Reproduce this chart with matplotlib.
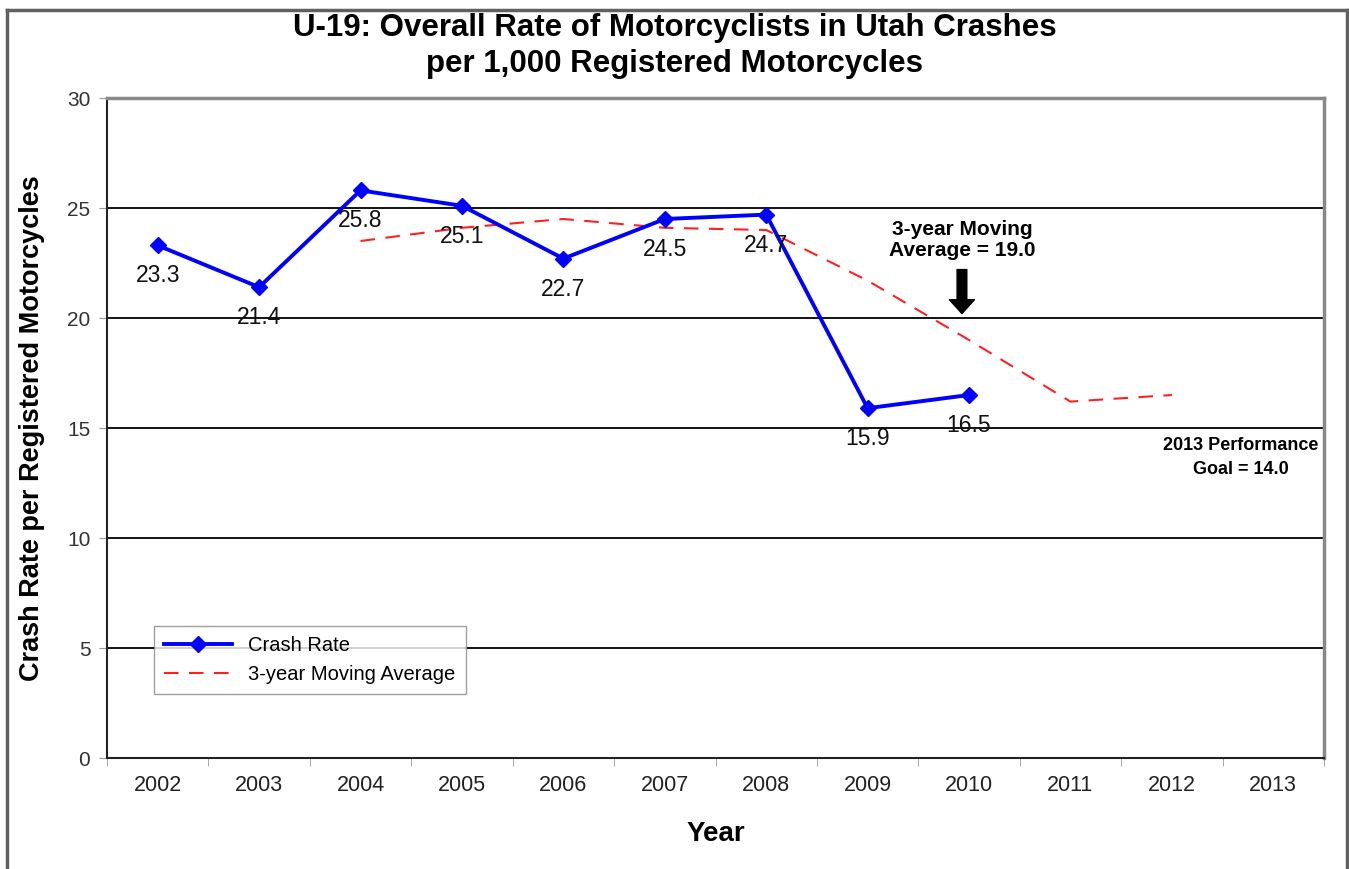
import matplotlib.pyplot as plt
from matplotlib.lines import Line2D

years = ["2002", "2003", "2004", "2005", "2006", "2007", "2008",
         "2009", "2010", "2011", "2012", "2013"]
crash_years = ["2002", "2003", "2004", "2005", "2006", "2007", "2008", "2009", "2010"]
crash_rate = [23.3, 21.4, 25.8, 25.1, 22.7, 24.5, 24.7, 15.9, 16.5]
ma_years = ["2004", "2005", "2006", "2007", "2008", "2009", "2010", "2011", "2012"]
moving_avg = [23.5, 24.1, 24.5, 24.1, 24.0, 21.7, 19.0, 16.2, 16.5]

plt.rcParams['font.family'] = ['Liberation Sans', 'DejaVu Sans']

fig = plt.figure(figsize=(13.49, 8.69), dpi=100)
ax = fig.add_axes([107 / 1349, 1 - 758 / 869, (1324 - 107) / 1349, (758 - 98) / 869])

xpos = {y: i for i, y in enumerate(years)}
xc = [xpos[y] for y in crash_years]
xm = [xpos[y] for y in ma_years]

# lignes de grille
for v in range(5, 30, 5):
    ax.axhline(v, color="black", lw=1.3, zorder=1)

ax.plot(xm, moving_avg, color="#ff2020", lw=1.5, ls=(0, (7, 5)), zorder=2,
        label="3-year Moving Average")
ax.plot(xc, crash_rate, color="#0000ff", lw=2.8, marker="D", ms=8, zorder=3,
        label="Crash Rate")

for x, v in zip(xc, crash_rate):
    ax.annotate(f"{v:.1f}", (x, v), xytext=(0, -22), textcoords="offset points",
                ha="center", va="center", fontsize=16.5, color="#111111", zorder=4)

ax.set_xlim(-0.5, len(years) - 0.5)
ax.set_ylim(0, 30)
ax.set_yticks(range(0, 31, 5))
ax.set_xticks(range(len(years)))
ax.set_xticklabels(years)
ax.set_xticks([i - 0.5 for i in range(len(years) + 1)], minor=True)
ax.tick_params(axis="x", which="major", length=0, pad=12, labelsize=15.5, labelcolor="#222222")
ax.tick_params(axis="x", which="minor", length=6, color="#999999")
ax.tick_params(axis="y", length=6, color="#999999", labelsize=15, labelcolor="#333333", pad=6)

ax.spines["left"].set_color("#222222")
ax.spines["bottom"].set_color("#222222")
ax.spines["left"].set_linewidth(1.5)
ax.spines["bottom"].set_linewidth(1.5)
ax.spines["top"].set_color("#888888")
ax.spines["right"].set_color("#888888")
ax.spines["top"].set_linewidth(2.5)
ax.spines["right"].set_linewidth(2.5)

ax.set_xlabel("Year", fontsize=20, fontweight="bold", labelpad=18)
ax.set_ylabel("Crash Rate per Registered Motorcycles", fontsize=19.5, fontweight="bold", labelpad=16)

fig.text(0.5, 0.968, "U-19: Overall Rate of Motorcyclists in Utah Crashes",
         ha="center", va="center", fontsize=22.5, fontweight="bold")
fig.text(0.5, 0.926, "per 1,000 Registered Motorcycles",
         ha="center", va="center", fontsize=22.5, fontweight="bold")

# annotations
ax.text(7.93, 23.55, "3-year Moving\nAverage = 19.0", ha="center", va="center",
        fontsize=15, fontweight="bold", linespacing=1.15)
ax.annotate("", xy=(7.93, 20.2), xytext=(7.93, 22.2),
            arrowprops=dict(facecolor="black", edgecolor="black", width=7,
                            headwidth=18, headlength=10))
ax.text(10.68, 13.65, "2013 Performance\nGoal = 14.0", ha="center", va="center",
        fontsize=13, fontweight="bold", linespacing=1.55)

handles, labels = ax.get_legend_handles_labels()
leg = ax.legend(handles[::-1], labels[::-1], loc="lower left", bbox_to_anchor=(0.03, 0.082),
                fontsize=14.5, frameon=True, fancybox=False, edgecolor="#888888",
                handlelength=3.4, borderpad=0.5, labelspacing=0.5)
leg.get_frame().set_linewidth(1.0)

# cadre extérieur
fig.add_artist(Line2D([7 / 1349, 7 / 1349], [0, 1 - 10 / 869], transform=fig.transFigure,
                      color="#606060", lw=2.5))
fig.add_artist(Line2D([7 / 1349, 1347 / 1349], [1 - 10 / 869, 1 - 10 / 869],
                      transform=fig.transFigure, color="#606060", lw=2.5))
fig.add_artist(Line2D([1347 / 1349, 1347 / 1349], [0, 1 - 10 / 869], transform=fig.transFigure,
                      color="#606060", lw=2.5))

fig.savefig("out.png", dpi=100)
